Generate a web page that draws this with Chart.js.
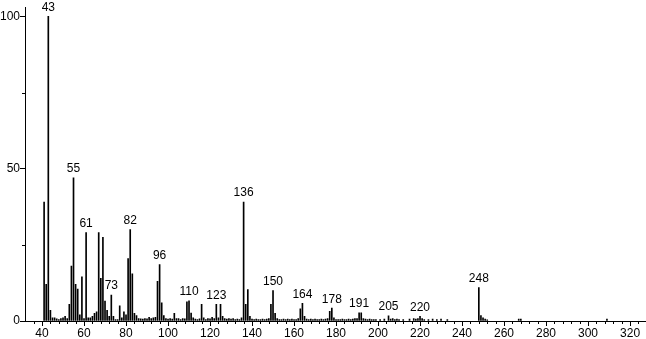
<!DOCTYPE html>
<html>
<head>
<meta charset="utf-8">
<script src="https://cdn.jsdelivr.net/npm/chart.js@4/dist/chart.umd.min.js"></script>
<style>
  body { margin: 0; background: #fff; }
  canvas { display: block; }
</style>
</head>
<body>
<canvas id="myChart" width="646" height="339"></canvas>
<script>
// m/z values and relative intensities
const mz = [
  41, 42, 43, 44, 45, 46, 47, 48, 49, 50, 51, 52, 53, 54, 55, 56, 57, 58, 59, 60,
  61, 62, 63, 64, 65, 66, 67, 68, 69, 70, 71, 72, 73, 74, 75, 76, 77, 78, 79, 80,
  81, 82, 83, 84, 85, 86, 87, 88, 89, 90, 91, 92, 93, 94, 95, 96, 97, 98, 99, 100,
  101, 102, 103, 104, 105, 106, 107, 108, 109, 110, 111, 112, 113, 114, 115, 116, 117, 118, 119, 120,
  121, 122, 123, 124, 125, 126, 127, 128, 129, 130, 131, 132, 133, 134, 135, 136, 137, 138, 139, 140,
  141, 142, 143, 144, 145, 146, 147, 148, 149, 150, 151, 152, 153, 154, 155, 156, 157, 158, 159, 160,
  161, 162, 163, 164, 165, 166, 167, 168, 169, 170, 171, 172, 173, 174, 175, 176, 177, 178, 179, 180,
  181, 182, 183, 184, 185, 186, 187, 188, 189, 190, 191, 192, 193, 194, 195, 196, 197, 198, 199, 201,
  203, 205, 206, 207, 208, 209, 210, 212, 215, 217, 218, 219, 220, 221, 222, 224, 226, 228, 230, 233,
  248, 249, 250, 251, 252, 267, 268, 309
];
const intensity = [
  39, 12, 100, 3.5, 1, 1, 0.7, 0.5, 0.8, 1, 1.5, 0.8, 5.5, 18, 47, 12, 10.5, 2, 14.5, 0.8,
  29, 1, 1, 1.5, 2.5, 3, 29, 14, 27.5, 6.5, 3.5, 1.5, 8.5, 1.5, 0.5, 0.5, 5, 1, 3, 2,
  20.5, 30, 15.5, 2.5, 1.8, 0.8, 0.7, 0.6, 0.8, 0.7, 1.2, 0.8, 1, 1.2, 13, 18.5, 6, 1.8, 0.8, 0.6,
  0.8, 0.6, 2.5, 0.8, 0.8, 0.5, 0.8, 0.7, 6.3, 6.6, 2.6, 1, 0.6, 0.5, 0.7, 5.5, 1, 0.5, 0.8, 0.7,
  1.2, 0.8, 5.5, 1, 5.5, 1.5, 0.8, 0.6, 0.8, 0.6, 0.8, 0.5, 0.6, 0.5, 1, 39, 5.5, 10.3, 1.5, 0.6,
  0.5, 0.6, 0.5, 0.5, 0.6, 0.5, 0.6, 0.8, 5.5, 10, 2.5, 0.8, 0.5, 0.5, 0.6, 0.5, 0.6, 0.5, 0.6, 0.5,
  0.5, 0.8, 4, 5.8, 1.5, 0.6, 0.5, 0.6, 0.5, 0.6, 0.5, 0.5, 0.6, 0.5, 0.6, 0.8, 3.2, 4.2, 1, 0.5,
  0.5, 0.5, 0.6, 0.5, 0.5, 0.6, 0.5, 0.6, 0.8, 0.8, 2.7, 2.7, 0.8, 0.6, 0.5, 0.6, 0.5, 0.5, 0.5, 0.5,
  0.6, 1.7, 0.6, 0.8, 0.5, 0.6, 0.5, 0.5, 0.6, 0.8, 0.6, 0.8, 1.5, 0.8, 0.5, 0.5, 0.6, 0.5, 0.6, 0.5,
  11, 1.8, 1, 0.6, 0.4, 0.6, 0.6, 0.6
];

// peaks that carry a number above them
const peakLabels = [43, 55, 61, 73, 82, 96, 110, 123, 136, 150, 164, 178, 191, 205, 220, 248];

// axis ticks
const xMajorTicks = [40, 60, 80, 100, 120, 140, 160, 180, 200, 220, 240, 260, 280, 300, 320];
const xMinorTicks = [
  36, 44, 48, 52, 56, 64, 68, 72, 76, 84, 88, 92, 96, 104, 108, 112, 116, 124, 128, 132, 136,
  144, 148, 152, 156, 164, 168, 172, 176, 184, 188, 192, 196, 204, 208, 212, 216, 224, 228, 232, 236,
  244, 248, 252, 256, 264, 268, 272, 276, 284, 288, 292, 296, 304, 308, 312, 316, 324
];
const yMajorTicks = [0, 50, 100];
const yMinorTicks = [25, 75];

const FONT = { family: "'Liberation Sans', Arial, sans-serif", size: 12 };

const extras = {
  id: "extras",
  afterDraw(chart) {
    const { ctx, scales: { x, y } } = chart;
    ctx.save();
    ctx.strokeStyle = "#000";
    ctx.lineWidth = 1;
    ctx.beginPath();
    xMinorTicks.forEach((v) => {
      const px = Math.round(x.getPixelForValue(v)) + 0.5;
      ctx.moveTo(px, y.bottom);
      ctx.lineTo(px, y.bottom + 3);
    });
    yMinorTicks.forEach((v) => {
      const py = Math.round(y.getPixelForValue(v)) + 0.5;
      ctx.moveTo(x.left - 3, py);
      ctx.lineTo(x.left, py);
    });
    ctx.stroke();

    // peak numbers
    ctx.fillStyle = "#000";
    ctx.font = FONT.size + "px " + FONT.family;
    ctx.textAlign = "center";
    ctx.textBaseline = "bottom";
    peakLabels.forEach((m) => {
      const v = intensity[mz.indexOf(m)];
      ctx.fillText(String(m), x.getPixelForValue(m), y.getPixelForValue(v) - 3);
    });
    ctx.restore();
  },
};

const ctx = document.getElementById("myChart").getContext("2d");
new Chart(ctx, {
  type: "bar",
  data: {
    datasets: [
      {
        data: mz.map((m, i) => ({ x: m, y: intensity[i] })),
        backgroundColor: "#000",
        borderWidth: 0,
        barThickness: 1,
      },
    ],
  },
  options: {
    responsive: false,
    animation: false,
    layout: { padding: { top: 2, right: 0, left: 0, bottom: 0 } },
    plugins: { legend: { display: false }, tooltip: { enabled: false } },
    scales: {
      x: {
        type: "linear",
        min: 31.9,
        max: 327.6,
        offset: false,
        afterBuildTicks: (s) => {
          s.ticks = xMajorTicks.map((v) => ({ value: v }));
        },
        afterFit: (s) => {
          s.height = 18;
        },
        grid: { offset: false, drawOnChartArea: false, tickLength: 5, tickColor: "#000" },
        border: { color: "#000", width: 1 },
        ticks: { color: "#000", font: FONT, padding: 0, maxRotation: 0, autoSkip: false },
      },
      y: {
        min: 0,
        max: 103,
        afterBuildTicks: (s) => {
          s.ticks = yMajorTicks.map((v) => ({ value: v }));
        },
        afterFit: (s) => {
          s.width = 25;
        },
        grid: { drawOnChartArea: false, tickLength: 5, tickColor: "#000" },
        border: { color: "#000", width: 1 },
        ticks: { color: "#000", font: FONT, padding: 0 },
      },
    },
  },
  plugins: [extras],
});
</script>
</body>
</html>
